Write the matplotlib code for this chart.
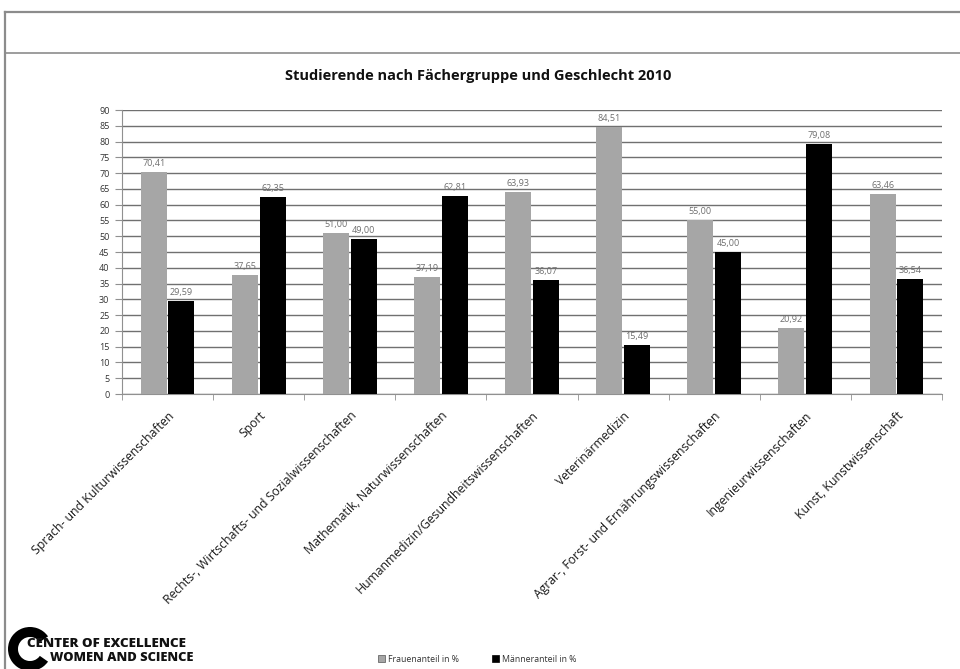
import matplotlib
matplotlib.use("Agg")
import matplotlib.pyplot as plt
import numpy as np
from matplotlib.lines import Line2D
from matplotlib.patches import Wedge, Patch

categories = [
    "Sprach- und Kulturwissenschaften",
    "Sport",
    "Rechts-, Wirtschafts- und Sozialwissenschaften",
    "Mathematik, Naturwissenschaften",
    "Humanmedizin/Gesundheitswissenschaften",
    "Veterinärmedizin",
    "Agrar-, Forst- und Ernährungswissenschaften",
    "Ingenieurwissenschaften",
    "Kunst, Kunstwissenschaft",
]
frauen = [70.41, 37.65, 51.00, 37.19, 63.93, 84.51, 55.00, 20.92, 63.46]
maenner = [29.59, 62.35, 49.00, 62.81, 36.07, 15.49, 45.00, 79.08, 36.54]
series_names = ["Frauenanteil in %", "Männeranteil in %"]
title = "Studierende nach Fächergruppe und Geschlecht 2010"

plt.rcParams['font.family'] = ['Open Sans', 'DejaVu Sans']

W, H = 960, 669
fig = plt.figure(figsize=(9.6, 6.69), dpi=100)

def fx(px):
    return px / W

def fy(py):
    return 1 - py / H

# frame
fig.add_artist(Line2D([fx(5), 1.0], [fy(12), fy(12)], color="#8c8c8c", lw=1.6))
fig.add_artist(Line2D([fx(5), 1.0], [fy(53), fy(53)], color="#8c8c8c", lw=1.2))
fig.add_artist(Line2D([fx(5), fx(5)], [fy(12), 0.0], color="#8c8c8c", lw=1.6))

ax = fig.add_axes([fx(122), fy(394), fx(942) - fx(122), fy(110) - fy(394)])
x = np.arange(len(categories))
bw = 0.285
gap = 0.02
b1 = ax.bar(x - bw / 2 - gap / 2, frauen, width=bw, color="#a6a6a6", zorder=3)
b2 = ax.bar(x + bw / 2 + gap / 2, maenner, width=bw, color="#000000", zorder=3)

for rect, v in zip(b1, frauen):
    ax.text(rect.get_x() + rect.get_width() / 2, v + 1.3, f"{v:.2f}".replace(".", ","),
            ha="center", va="bottom", fontsize=6.5, color="#6e6e6e", zorder=4)
for rect, v in zip(b2, maenner):
    ax.text(rect.get_x() + rect.get_width() / 2, v + 1.3, f"{v:.2f}".replace(".", ","),
            ha="center", va="bottom", fontsize=6.5, color="#6e6e6e", zorder=4)

ax.set_xlim(-0.5, len(categories) - 0.5)
ax.set_ylim(0, 90)
ax.set_yticks(np.arange(0, 91, 5))
ax.yaxis.grid(True, color="#707070", lw=1.0, zorder=0)
ax.set_axisbelow(True)
for s in ["top", "right"]:
    ax.spines[s].set_visible(False)
ax.spines["left"].set_color("#909090")
ax.spines["bottom"].set_color("#909090")
ax.tick_params(axis="y", labelsize=6.5, length=5, color="#909090", pad=4, labelcolor="#333333")
ax.set_xticks(x)
ax.set_xticklabels(categories, rotation=45, ha="right", rotation_mode="anchor",
                   fontsize=8.8, color="#1a1a1a")
ax.tick_params(axis="x", length=0, pad=11)
ax.set_xticks(np.arange(-0.5, len(categories) + 0.5, 1), minor=True)
ax.tick_params(axis="x", which="minor", length=4, color="#909090")

fig.text(fx(478), fy(76), title, ha="center", va="center", fontsize=10.5,
         fontweight="bold", color="#111111")

# legend
handles = [Patch(facecolor="#a6a6a6", edgecolor="#555555", lw=0.5),
           Patch(facecolor="#000000", edgecolor="#000000", lw=0.5)]
fig.legend(handles, series_names, loc="center", bbox_to_anchor=(fx(477), fy(659)),
           ncol=2, frameon=False, fontsize=6.3, handlelength=0.8, handleheight=0.8,
           handletextpad=0.3, columnspacing=3.8, labelcolor="#333333")

# logo
lax = fig.add_axes([0, 0, 1, 1], facecolor="none")
lax.set_xlim(0, W)
lax.set_ylim(H, 0)
lax.axis("off")
lax.add_patch(Wedge((30, 649), 22, 35, 325, width=10, facecolor="black", edgecolor="none"))
lax.text(27, 644, "CENTER OF EXCELLENCE", fontsize=9.6, fontweight="heavy",
         ha="left", va="center", color="#111111")
lax.text(50, 658, "WOMEN AND SCIENCE", fontsize=9.3, fontweight="heavy",
         ha="left", va="center", color="#111111")

fig.savefig("out.png", dpi=100)
